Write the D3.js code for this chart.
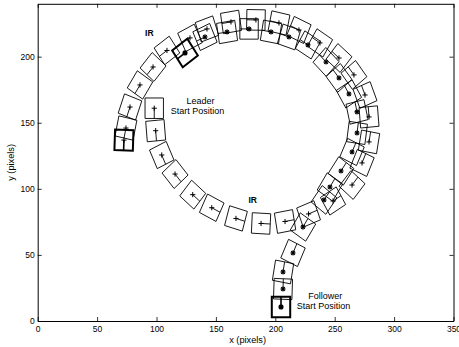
<!DOCTYPE html>
<html>
<head>
<meta charset="utf-8">
<script src="https://cdn.jsdelivr.net/npm/d3@7"></script>
<style>
  html, body { margin: 0; padding: 0; background: #fff; }
  svg { display: block; font-family: "Liberation Sans", Arial, Helvetica, sans-serif; }
</style>
</head>
<body>
<svg id="chart" width="459" height="347"></svg>
<script>
// ---- data ----
const xTicks = [0, 50, 100, 150, 200, 250, 300, 350];
const yTicks = [0, 50, 100, 150, 200];

// Leader robot poses (centre x, centre y, heading in degrees)
const leaderX = [98.1, 99.3, 104.4, 115.6, 130.5, 146.5, 166.9, 188.0, 208.2, 228.0,
                 248.6, 264.6, 273.0, 278.9, 278.9, 275.5, 266.2, 253.6, 237.6, 219.9,
                 203.1, 183.7, 162.7, 142.5, 128.2, 108.8, 97.1, 86.1, 77.7, 74.3, 72.6];
const leaderY = [161.0, 144.0, 125.6, 111.2, 95.6, 85.7, 77.6, 73.8, 75.3, 81.0,
                 90.8, 102.9, 119.6, 135.5, 154.4, 171.0, 186.2, 199.0, 210.4, 220.2,
                 225.5, 227.8, 226.3, 221.0, 214.2, 204.7, 192.2, 178.6, 161.9, 146.0, 136.9];
const leaderHeading = [-90, -85, -65, -49, -40, -26, -16, -3, 10, 21,
                       31, 50, 66, 80, 95, 112, 128, 140, 148, 156,
                       168, 179, 189, 199, 206, 215, 229, 237, 250, 258, 268];

// Follower robot poses
const followerX = [204.8, 206.5, 206.5, 214.9, 223.3, 241.0, 246.0, 255.3, 264.6, 268.8,
                   268.8, 262.0, 253.6, 242.7, 227.5, 211.5, 196.4, 177.9, 159.4, 140.8, 124.0];
const followerY = [10.6, 24.2, 37.1, 51.5, 71.1, 91.6, 101.4, 113.5, 127.9, 142.3,
                   158.2, 171.8, 183.9, 196.0, 208.9, 214.9, 218.7, 221.0, 218.7, 214.9, 202.8];
const followerHeading = [90, 88, 80, 65, 57, 53, 57, 55, 65, 82,
                         103, 121, 129, 136, 149, 162, 170, 180, 189, 204, 215];

const robotSide = 15.5;

const annotations = [
  { text: "IR", x: 94, y: 216, bold: true },
  { text: "IR", x: 181, y: 89, bold: true },
  { text: "Leader", x: 137, y: 164, bold: false },
  { text: "Start Position", x: 134.5, y: 156.5, bold: false },
  { text: "Follower", x: 242, y: 16.5, bold: false },
  { text: "Start Position", x: 240.5, y: 9, bold: false }
];

// ---- chart ----
const svg = d3.select("#chart");
const L = 37.7, R = 453.5, T = 3.8, B = 321;
const x = d3.scaleLinear().domain([0, 350]).range([L, R]);
const y = d3.scaleLinear().domain([0, 240]).range([B, T]);

function squarePath(cx, cy, hdg) {
  const h = robotSide / 2, a = hdg * Math.PI / 180;
  const c = Math.cos(a), s = Math.sin(a);
  const pts = [[h, h], [-h, h], [-h, -h], [h, -h]].map(([u, v]) =>
    [x(cx + u * c - v * s), y(cy + u * s + v * c)]);
  return "M" + pts.map(p => p.join(",")).join("L") + "Z";
}
function headingLine(cx, cy, hdg) {
  const h = robotSide / 2, a = hdg * Math.PI / 180;
  return [x(cx), y(cy), x(cx + h * Math.cos(a)), y(cy + h * Math.sin(a))];
}

const marks = svg.append("g");

function drawRobots(xs, ys, hs, marker, boldIdx) {
  const g = marks.append("g");
  xs.forEach((cx, i) => {
    const cy = ys[i], hd = hs[i];
    const bold = boldIdx.includes(i);
    g.append("path").attr("d", squarePath(cx, cy, hd))
      .attr("fill", "none").attr("stroke", "#000")
      .attr("stroke-width", bold ? 2.0 : 0.9);
    const [x1, y1, x2, y2] = headingLine(cx, cy, hd);
    g.append("line").attr("x1", x1).attr("y1", y1).attr("x2", x2).attr("y2", y2)
      .attr("stroke", "#000").attr("stroke-width", bold ? 1.6 : 0.9);
    const px = x(cx), py = y(cy), m = 2.6;
    if (marker === "+") {
      g.append("path").attr("d", `M${px - m},${py}H${px + m}M${px},${py - m}V${py + m}`)
        .attr("stroke", "#000").attr("stroke-width", 1);
    } else {
      const d = m * 0.72;
      g.append("path").attr("d",
        `M${px - m},${py}H${px + m}M${px},${py - m}V${py + m}` +
        `M${px - d},${py - d}L${px + d},${py + d}M${px - d},${py + d}L${px + d},${py - d}`)
        .attr("stroke", "#000").attr("stroke-width", bold ? 1.6 : 1.1);
    }
  });
}

drawRobots(leaderX, leaderY, leaderHeading, "+", [leaderX.length - 1]);
drawRobots(followerX, followerY, followerHeading, "*", [0, followerX.length - 1]);

// annotations
annotations.forEach(a => {
  svg.append("text").attr("x", x(a.x)).attr("y", y(a.y))
    .attr("text-anchor", "middle")
    .attr("font-size", a.bold ? 8.5 : 9)
    .attr("font-weight", a.bold ? "bold" : "normal")
    .attr("fill", "#000")
    .text(a.text);
});

// axes (MATLAB-style, ticks inward on all four sides)
const fmt = d3.format("d");
const gx = svg.append("g").attr("transform", `translate(0,${B})`)
  .call(d3.axisBottom(x).tickValues(xTicks).tickSizeInner(-4).tickSizeOuter(0).tickPadding(4.5).tickFormat(fmt));
const gxt = svg.append("g").attr("transform", `translate(0,${T})`)
  .call(d3.axisTop(x).tickValues(xTicks).tickSizeInner(-4).tickSizeOuter(0).tickFormat(""));
const gy = svg.append("g").attr("transform", `translate(${L},0)`)
  .call(d3.axisLeft(y).tickValues(yTicks).tickSizeInner(-4).tickSizeOuter(0).tickPadding(3).tickFormat(fmt));
const gyr = svg.append("g").attr("transform", `translate(${R},0)`)
  .call(d3.axisRight(y).tickValues(yTicks).tickSizeInner(-4).tickSizeOuter(0).tickFormat(""));

[gx, gxt, gy, gyr].forEach(g => {
  g.select(".domain").attr("stroke", "#000").attr("stroke-width", 1);
  g.selectAll(".tick line").attr("stroke", "#000").attr("stroke-width", 0.8);
  g.selectAll(".tick text").attr("font-size", 8.5).attr("fill", "#000")
    .attr("font-family", "'Liberation Sans', Arial, sans-serif");
});

// axis titles
svg.append("text").attr("x", (L + R) / 2 + 2).attr("y", 343)
  .attr("text-anchor", "middle").attr("font-size", 9.2).text("x (pixels)");
svg.append("text").attr("transform", `translate(14,${(T + B) / 2}) rotate(-90)`)
  .attr("text-anchor", "middle").attr("font-size", 9.2).text("y (pixels)");
</script>
</body>
</html>
